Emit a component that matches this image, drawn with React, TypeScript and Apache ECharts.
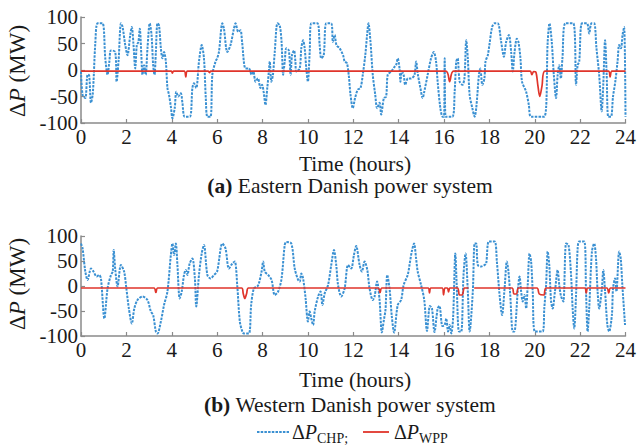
import React, { useEffect, useRef } from "react";
import * as echarts from "echarts";

// Eastern Danish power system: [hour, MW]
const eastChp: [number, number][] = [
  [0, -3], [0.07, -47], [0.19, -53], [0.29, -9], [0.36, -10], [0.44, -62], [0.52, -45], [0.63, 50], [0.73, 88], [0.95, 88],
  [1.07, 22], [1.17, -9], [1.25, 16], [1.32, 37], [1.51, 34], [1.57, -22], [1.66, 20], [1.76, 88], [1.83, 82], [1.95, 47],
  [2.05, 28], [2.17, 66], [2.24, 81], [2.31, 50], [2.39, 3], [2.46, 47], [2.53, 53], [2.59, 78], [2.66, 28], [2.71, -9],
  [2.78, 9], [2.85, -9], [2.93, 41], [3.03, 88], [3.11, 66], [3.18, 9], [3.24, -9], [3.3, 34], [3.37, 88], [3.44, 84],
  [3.52, 41], [3.59, 22], [3.66, 34], [3.74, 16], [3.81, -34], [3.88, -47], [3.96, -69], [4.03, -91], [4.13, -72], [4.2, -41],
  [4.29, -50], [4.4, -44], [4.47, -62], [4.57, -88], [4.8, -88], [4.91, -34], [4.98, -25], [5.08, -34], [5.2, 16], [5.32, 47],
  [5.42, 22], [5.5, -53], [5.57, -88], [5.71, -88], [5.79, -9], [5.93, 16], [6.0, 22], [6.08, 34], [6.23, 88], [6.3, 78],
  [6.45, 34], [6.59, 47], [6.74, 78], [6.81, 88], [6.93, 72], [7.03, 75], [7.1, 53], [7.25, 3], [7.4, 3], [7.52, -9],
  [7.6, -3], [7.69, -22], [7.8, -16], [7.91, -34], [7.98, -28], [8.05, -41], [8.13, -66], [8.21, -34], [8.28, -3], [8.32, 16],
  [8.39, -22], [8.46, -9], [8.54, 34], [8.66, 88], [8.76, 84], [8.84, 53], [8.91, -9], [8.98, 16], [9.05, 41], [9.16, 37],
  [9.24, -9], [9.3, 28], [9.39, 37], [9.45, 16], [9.49, -3], [9.64, 3], [9.71, 41], [9.79, 56], [9.86, 41], [9.93, 3],
  [10.0, -22], [10.08, 34], [10.15, 88], [10.42, 88], [10.52, 47], [10.59, 22], [10.7, 28], [10.81, 88], [11.03, 88], [11.1, 53],
  [11.18, 66], [11.26, 47], [11.4, 41], [11.55, 28], [11.62, 16], [11.72, 13], [11.8, -9], [11.88, -47], [11.98, -72], [12.08, -53],
  [12.2, -37], [12.32, -34], [12.42, -9], [12.53, 28], [12.61, 66], [12.67, 88], [12.76, 53], [12.86, -9], [12.97, -47], [13.05, -72],
  [13.16, -62], [13.23, -84], [13.35, -53], [13.45, -50], [13.52, -9], [13.67, -3], [13.82, 6], [13.89, 9], [13.96, 22], [14.04, 3],
  [14.08, -22], [14.14, -3], [14.22, -9], [14.29, -28], [14.41, -16], [14.55, -16], [14.7, -9], [14.77, 16], [14.85, -9], [14.96, -34],
  [15.06, -53], [15.13, -41], [15.28, -9], [15.43, 22], [15.55, 34], [15.65, 16], [15.72, -22], [15.84, -72], [15.94, -88], [16.0, -88],
  [16.03, 22], [16.07, -88], [16.37, -88], [16.47, -41], [16.54, 16], [16.6, 22], [16.69, -22], [16.81, -28], [16.9, -16], [16.98, 56],
  [17.05, 22], [17.13, -47], [17.25, -72], [17.35, -88], [17.42, -72], [17.54, -9], [17.6, 3], [17.69, -28], [17.78, -16], [17.83, 16],
  [17.93, 28], [18.0, 47], [18.12, 81], [18.23, 88], [18.37, 88], [18.52, 53], [18.64, 25], [18.74, 53], [18.86, 66], [18.96, 34],
  [19.03, -3], [19.11, 34], [19.21, 59], [19.28, 53], [19.37, 22], [19.44, -22], [19.62, -41], [19.74, -66], [19.84, -88], [20.42, -88],
  [20.57, 53], [20.65, 88], [20.75, 53], [20.84, -9], [20.94, -53], [21.01, -9], [21.08, 9], [21.15, -16], [21.22, 22], [21.35, 88],
  [21.7, 88], [21.82, -28], [21.89, 9], [21.96, 16], [22.08, 88], [22.3, 88], [22.4, 69], [22.5, 88], [22.62, 88], [22.72, 41],
  [22.84, -9], [22.95, -78], [23.02, -28], [23.1, 56], [23.17, -9], [23.24, -88], [23.36, -88], [23.45, -50], [23.55, -22], [23.65, 16],
  [23.72, 47], [23.8, 41], [23.87, 66], [23.94, 81], [24.0, -88],
];

const eastWpp: [number, number][] = [
  [0, -2], [3.98, -2], [4.03, -6], [4.08, -2], [4.55, -2], [4.62, -13], [4.69, -2], [5.6, -2], [5.66, -5], [5.72, -2],
  [16.08, -2], [16.25, -22], [16.42, -2], [19.8, -2], [19.87, -9], [19.95, -3], [20.05, -4], [20.14, -30], [20.22, -50],
  [20.32, -30], [20.45, -2], [23.25, -2], [23.32, -13], [23.4, -2], [24, -2],
];

// Western Danish power system: [hour, MW]
const westChp: [number, number][] = [
  [0, 85], [0.07, 75], [0.19, 29], [0.29, 12], [0.44, 35], [0.55, 29], [0.69, 19], [0.8, 22], [0.88, 15], [1.03, -65],
  [1.17, -5], [1.32, 22], [1.4, 29], [1.44, 72], [1.51, 33], [1.61, -1], [1.76, 42], [1.9, 29], [2.0, -5], [2.11, -45],
  [2.24, -75], [2.35, -45], [2.49, -28], [2.71, -21], [2.93, -28], [3.08, -51], [3.18, -58], [3.3, -91], [3.37, -95], [3.52, -71],
  [3.66, -38], [3.81, -11], [3.96, 62], [4.03, 85], [4.1, 62], [4.18, 85], [4.25, 42], [4.35, -25], [4.44, -11], [4.54, 22],
  [4.62, 32], [4.69, 22], [4.79, 45], [4.91, 55], [5.02, 15], [5.08, -41], [5.2, 22], [5.32, 65], [5.42, 82], [5.57, 22],
  [5.71, 15], [5.86, 22], [6.0, 29], [6.23, 85], [6.37, 75], [6.52, 35], [6.67, 45], [6.78, 49], [6.89, -1], [7.0, -71],
  [7.11, -91], [7.18, -95], [7.4, -95], [7.5, -38], [7.62, -5], [7.77, -1], [7.84, 5], [7.96, 29], [8.03, 49], [8.1, 29],
  [8.25, 22], [8.4, 12], [8.54, -18], [8.69, -11], [8.84, 15], [8.98, 82], [9.05, 88], [9.27, 85], [9.42, 35], [9.57, 12],
  [9.64, 9], [9.71, 25], [9.79, 15], [9.9, -25], [10.0, -71], [10.08, -51], [10.15, -65], [10.23, -78], [10.3, -51], [10.45, -21],
  [10.56, -11], [10.64, -38], [10.74, -15], [10.89, 2], [11.03, 42], [11.15, 72], [11.25, 42], [11.33, 2], [11.47, -21], [11.62, -5],
  [11.77, 42], [11.91, 35], [12.03, 62], [12.13, 80], [12.28, 42], [12.38, 29], [12.5, 49], [12.62, 32], [12.72, -5], [12.86, -28],
  [12.94, -21], [13.05, 9], [13.16, -28], [13.26, -93], [13.35, -68], [13.42, -48], [13.5, 22], [13.6, -5], [13.7, -61], [13.8, -93],
  [13.96, -38], [14.11, -28], [14.22, 2], [14.4, 22], [14.48, 42], [14.58, 69], [14.68, 85], [14.77, 55], [14.84, 29], [14.99, 2],
  [15.13, -28], [15.25, -90], [15.38, -40], [15.47, -45], [15.58, -92], [15.72, -45], [15.8, -40], [15.93, -80], [16.03, -78], [16.1, -65],
  [16.18, -91], [16.25, -78], [16.32, -95], [16.4, -65], [16.5, 65], [16.56, 2], [16.66, -91], [16.76, -91], [16.86, 22], [16.95, 65],
  [17.05, -11], [17.13, -91], [17.27, -11], [17.35, 85], [17.42, 85], [17.49, 42], [17.64, 39], [17.79, 42], [17.86, 45], [17.98, 89],
  [18.23, 89], [18.33, 49], [18.45, -18], [18.56, -58], [18.67, -5], [18.77, 49], [18.84, 29], [18.92, -18], [19.03, -91], [19.1, -91],
  [19.25, -11], [19.33, 19], [19.4, -11], [19.47, -31], [19.55, -18], [19.62, -45], [19.69, 2], [19.77, 65], [19.84, 49], [19.91, -11],
  [20.01, -91], [20.35, -91], [20.42, -45], [20.5, 2], [20.57, 69], [20.64, 42], [20.72, -31], [20.79, -45], [20.89, -11], [21.01, 32],
  [21.08, 2], [21.16, -21], [21.26, -31], [21.38, 85], [21.49, 82], [21.6, 22], [21.67, -45], [21.74, -85], [21.82, -18], [21.89, 75],
  [21.96, 89], [22.18, 89], [22.26, -11], [22.33, -91], [22.4, -45], [22.52, 69], [22.62, 85], [22.7, 55], [22.77, -11], [22.84, -45],
  [22.96, -5], [23.02, 32], [23.1, -11], [23.2, -78], [23.28, -91], [23.4, -58], [23.45, -5], [23.54, 15], [23.6, -11], [23.72, 69],
  [23.79, 55], [23.86, 2], [23.98, -78],
];

const westWpp: ([number, number] | [number, string])[] = [
  [0, -4], [3.22, -4], [3.3, -13], [3.38, -4], [7.08, -4], [7.15, -15], [7.22, -25], [7.3, -15], [7.38, -4], [13.1, -4],
  [13.18, -13], [13.26, -4], [15.3, -4], [15.36, -14], [15.42, -4], [15.92, -4], [15.98, -18], [16.04, -4], [16.15, -4], [16.2, -12],
  [16.26, -4], [16.6, -4], [16.68, -18], [16.8, -18], [16.9, -4], [17.08, -4], [17.2, "-"], [17.33, -4], [19.0, -4], [19.08, -16],
  [19.2, -16], [19.28, -4], [20.1, -4], [20.2, -16], [20.4, -18], [20.5, -4], [22.2, -4], [22.27, -14], [22.34, -4], [23.18, -4],
  [23.26, -14], [23.34, -4], [24, -4],
];

const xTicks = { min: 0, max: 24, interval: 2 };
const yTicks = { min: -100, max: 100, interval: 50 };
const subTitles = ["Eastern Danish power system", "Western Danish power system"];
const subLetters = ["(a)", "(b)"];

const FONT = "Liberation Serif";
const BLUE = "#3a90d2";
const RED = "#e0352b";
const AXIS = "#8a8a8a";
const INK = "#1a1a1a";

export default function App() {
  const ref = useRef<HTMLDivElement>(null);
  useEffect(() => {
    if (!ref.current) return;
    const chart = echarts.init(ref.current, undefined, { renderer: "svg" });
    const grids = [
      { left: 81, top: 17, width: 546, height: 106 },
      { left: 81, top: 236, width: 546, height: 100 },
    ];
    const xLabel = { fontFamily: FONT, fontSize: 21, lineHeight: 16, color: INK, margin: 6 };
    const yLabel = { fontFamily: FONT, fontSize: 21, lineHeight: 16, color: INK, margin: 3 };
    const xAxis = grids.map((_, i) => ({
      type: "value",
      gridIndex: i,
      ...xTicks,
      axisLine: { show: true, onZero: false, lineStyle: { color: AXIS, width: 1.5 } },
      axisTick: { show: true, inside: true, length: 4, lineStyle: { color: AXIS, width: 1.2 } },
      splitLine: { show: false },
      axisLabel: xLabel,
    }));
    const yAxis = grids.map((_, i) => ({
      type: "value",
      gridIndex: i,
      ...yTicks,
      axisLine: { show: true, onZero: false, lineStyle: { color: AXIS, width: 1.5 } },
      axisTick: { show: true, inside: true, length: 4, lineStyle: { color: AXIS, width: 1.2 } },
      splitLine: { show: false },
      axisLabel: yLabel,
    }));
    const mk = (data: any[], i: number, color: string, dashed: boolean) => ({
      type: "line",
      xAxisIndex: i,
      yAxisIndex: i,
      data,
      showSymbol: false,
      smooth: 0.3,
      connectNulls: false,
      clip: true,
      lineStyle: dashed
        ? { color, width: 2, type: [2.5, 1.2] }
        : { color, width: 1.7 },
    });
    const rich = (size: number, lh: number) => ({
      n: { fontFamily: FONT, fontSize: size, lineHeight: lh, color: INK },
      i: { fontFamily: FONT, fontSize: size, lineHeight: lh, fontStyle: "italic", color: INK },
      b: { fontFamily: FONT, fontSize: size, lineHeight: lh, fontWeight: "bold", color: INK },
    });
    const textBase = { fontFamily: FONT, fill: INK };
    const graphic: any[] = [];
    const yCenters = [71, 284];
    const timeY = [164, 380];
    const subY = [186, 405];
    [0, 1].forEach((i) => {
      graphic.push({
        type: "text",
        x: 17,
        y: yCenters[i],
        rotation: Math.PI / 2,
        style: {
          ...textBase,
          text: "{n|Δ}{i|P}{n| (MW)}",
          fontSize: 23,
          align: "center",
          verticalAlign: "middle",
          rich: rich(23, 22),
        },
      });
      graphic.push({
        type: "text",
        x: 355,
        y: timeY[i],
        style: { ...textBase, text: "Time (hours)", fontSize: 21.5, lineHeight: 19, align: "center", verticalAlign: "middle" },
      });
      graphic.push({
        type: "text",
        x: 350,
        y: subY[i],
        style: {
          ...textBase,
          text: `{b|${subLetters[i]}}{n| ${subTitles[i]}}`,
          fontSize: 21.5,
          lineHeight: 19,
          align: "center",
          verticalAlign: "middle",
          rich: rich(21.5, 19),
        },
      });
    });
    // legend
    const ly = 432;
    graphic.push({
      type: "line",
      shape: { x1: 257, y1: ly, x2: 289, y2: ly },
      style: { stroke: BLUE, lineWidth: 1.8, lineDash: [2.5, 1.2] },
    });
    graphic.push({
      type: "text",
      x: 292,
      y: ly,
      style: { ...textBase, text: "{n|Δ}{i|P}", fontSize: 20, align: "left", verticalAlign: "middle", rich: rich(20, 20) },
    });
    graphic.push({
      type: "text",
      x: 317,
      y: ly + 6,
      style: { ...textBase, text: "CHP;", fontSize: 14, align: "left", verticalAlign: "middle" },
    });
    graphic.push({
      type: "line",
      shape: { x1: 363, y1: ly, x2: 389, y2: ly },
      style: { stroke: RED, lineWidth: 1.8 },
    });
    graphic.push({
      type: "text",
      x: 394,
      y: ly,
      style: { ...textBase, text: "{n|Δ}{i|P}", fontSize: 20, align: "left", verticalAlign: "middle", rich: rich(20, 20) },
    });
    graphic.push({
      type: "text",
      x: 419,
      y: ly + 6,
      style: { ...textBase, text: "WPP", fontSize: 14, align: "left", verticalAlign: "middle" },
    });

    chart.setOption({
      animation: false,
      grid: grids,
      xAxis,
      yAxis,
      series: [
        mk(eastChp, 0, BLUE, true),
        mk(eastWpp, 0, RED, false),
        mk(westChp, 1, BLUE, true),
        mk(westWpp, 1, RED, false),
      ],
      graphic,
    });
    return () => chart.dispose();
  }, []);
  return <div ref={ref} style={{ width: 639, height: 445, position: "absolute", left: 0, top: 0, background: "#fff" }} />;
}
